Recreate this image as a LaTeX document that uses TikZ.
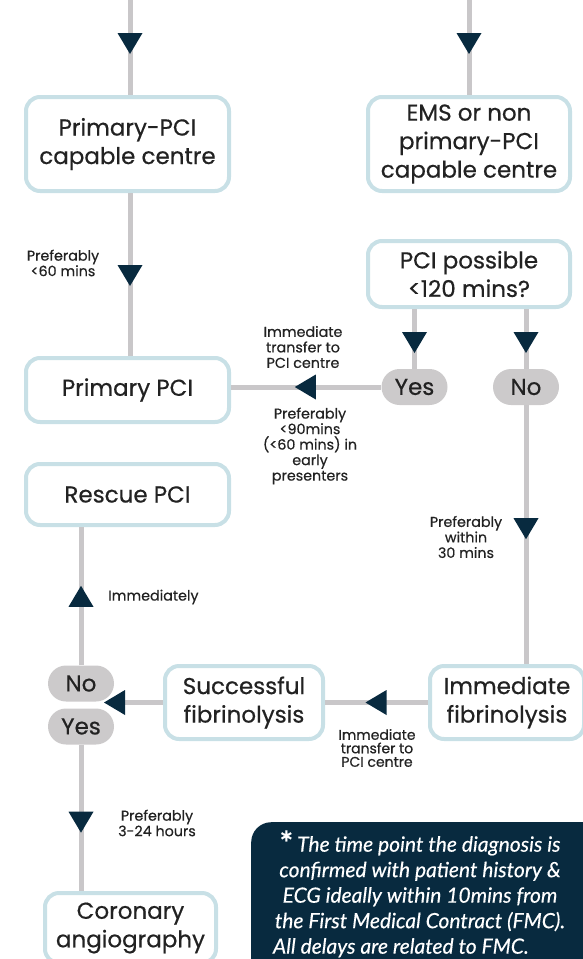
\documentclass[tikz,border=0pt]{standalone}
\usepackage{fontspec}
\setmainfont{Poppins}[FakeBold=0.5]
\newfontfamily\notefont{Lato}[FakeBold=0.3]
\usetikzlibrary{decorations.markings}
\definecolor{navy}{HTML}{082A3F}
\definecolor{linegray}{HTML}{C9C7C9}
\definecolor{boxblue}{HTML}{C8E0E6}
\definecolor{pillgray}{HTML}{CCCACB}
\definecolor{ink}{HTML}{222222}

\begin{document}
\begin{tikzpicture}[x=1pt,y=-1pt,
  box/.style={draw=boxblue, line width=4pt, fill=white, rounded corners=14pt, align=center,
    inner sep=0pt, text=ink, font=\fontsize{23}{28.5}\selectfont},
  pill/.style={fill=pillgray, rounded corners=18pt, inner sep=0pt, minimum width=66pt,
    minimum height=36pt, text=ink, font=\fontsize{23}{28}\selectfont},
  lbl/.style={align=center, inner sep=0pt, text=ink, font=\fontsize{14.3}{15.5}\selectfont},
  flow/.style={draw=linegray, line width=5pt},
  tri/.style={postaction={decorate, decoration={markings, mark=at position #1 with
    {\fill[navy] (10.5pt,0pt) -- (-10.5pt,12.5pt) -- (-10.5pt,-12.5pt) -- cycle;}}}}
]
\useasboundingbox (0,0) rectangle (582,959);

% boxes
\node[box, minimum width=203pt, minimum height=94pt] (capc) at (127.5,144) {Primary-PCI\\capable centre};
\node[box, minimum width=202pt, minimum height=94pt] (ems) at (469,144) {EMS or non\\primary-PCI\\capable centre};
\node[box, minimum width=202pt, minimum height=66pt] (poss) at (469,274) {PCI possible\\<120 mins?};
\node[box, minimum width=203pt, minimum height=64pt] (ppci) at (127.5,390) {Primary PCI};
\node[box, minimum width=203pt, minimum height=61pt] (rescue) at (127.5,494.5) {Rescue PCI};
\node[box, minimum width=158pt, minimum height=73pt] (succ) at (244,702.5) {Successful\\fibrinolysis};
\node[box, minimum width=154pt, minimum height=73pt] (imfib) at (507,702.5) {Immediate\\fibrinolysis};
\node[box, minimum width=171pt, minimum height=70pt] (coro) at (130.5,928) {Coronary\\angiography};

% yes / no pills
\node[pill] (yes) at (414.5,387) {Yes};
\node[pill] (no) at (526,387) {No};
\node[pill] (noL) at (81,683.5) {No};
\node[pill] (yesL) at (81,726.5) {Yes};

% free ends
\coordinate (topL) at (130,0);
\coordinate (topR) at (469,0);
\coordinate (split) at (noL.east |- succ.west);

% connectors
\draw[flow, tri=43.5pt] (topL) -- (topL |- capc.north);
\draw[flow, tri=43.5pt] (topR) -- (ems.north);
\draw[flow, tri=82.5pt] (capc.south -| topL) -- (ppci.north -| topL);
\draw[flow, tri=33.5pt] (yes.north |- poss.south) -- (yes.north);
\draw[flow, tri=33.5pt] (no.north |- poss.south) -- (no.north);
\draw[flow, tri=76pt] (yes.west) -- (yes.west -| ppci.east);
\draw[flow, tri=123.5pt] (no.south) -- (no.south |- imfib.north);
\draw[flow, tri=52pt] (imfib.west) -- (succ.east);
\draw[flow, tri=48.5pt] (succ.west) -- (split);
\draw[flow, tri=69pt] (noL.north) -- (noL.north |- rescue.south);
\draw[flow, tri=77.5pt] (yesL.south) -- (yesL.south |- coro.north);

% timing labels
\node[lbl] (l60) at (63,263) {Preferably\\<60 mins};
\node[lbl] (ltr1) at (303,347) {Immediate\\transfer to\\PCI centre};
\node[lbl] (l90) at (310,446) {Preferably\\<90mins\\(<60 mins) in\\early\\presenters};
\node[lbl] (l30) at (466,537) {Preferably\\within\\30 mins};
\node[lbl, anchor=west] (limm) at (108,597) {Immediately};
\node[lbl, font=\fontsize{14}{13.5}\selectfont] (ltr2) at (377,748) {Immediate\\transfer to\\PCI centre};
\node[lbl] (l324) at (157,823) {Preferably\\3-24 hours};

% footnote
\node[fill=navy, rounded corners=20pt, minimum width=389pt, minimum height=178pt,
  anchor=north west, inner sep=0pt] (note) at (251,822) {};
\node[text=white, align=center, inner sep=0pt, anchor=north,
  font=\notefont\itshape\fontsize{21}{25.5}\selectfont] (notetext) at (420,836)
  {\raisebox{-3pt}[12pt][0pt]{\upshape\bfseries\fontsize{32}{32}\selectfont *}\hspace{4pt}The time point the diagnosis is\\
   confirmed with patient history \&\\
   ECG ideally within 10mins from\\
   the First Medical Contract (FMC).\\
   \makebox[294pt][l]{All delays are related to FMC.}};
\end{tikzpicture}
\end{document}
